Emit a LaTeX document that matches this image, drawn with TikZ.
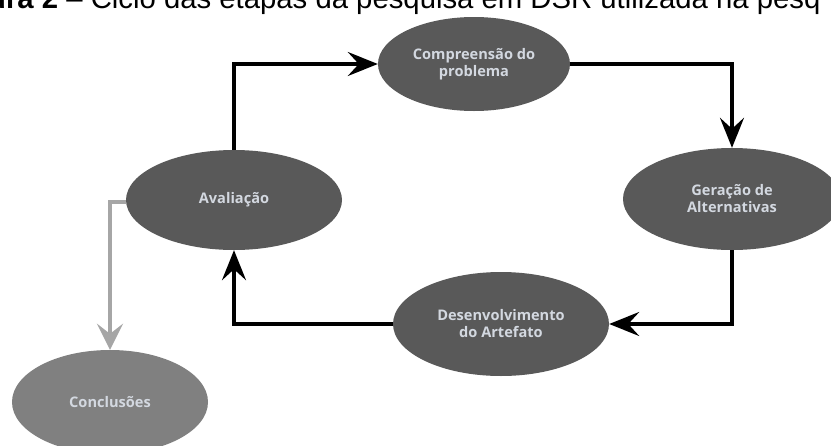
\documentclass[tikz,border=0pt]{standalone}
\usepackage{fontspec}
\setmainfont{Open Sans}
\newfontfamily\capfont{Liberation Sans}
\usetikzlibrary{shapes.geometric,arrows.meta}
\definecolor{darkfill}{HTML}{595959}
\definecolor{lightfill}{HTML}{808080}
\definecolor{txtcol}{HTML}{D3D8E0}
\definecolor{graylink}{HTML}{A6A6A6}
\tikzset{
  stage/.style={ellipse, fill=darkfill, draw=none, inner sep=0pt,
    text=txtcol, font=\bfseries\fontsize{14.6}{17}\selectfont, align=center},
  link/.style={line width=3.6pt, draw=black,
    -{Stealth[length=30pt,width=24pt,inset=11pt]}},
  graylinkstyle/.style={line width=4pt, draw=graylink,
    -{Stealth[length=26pt,width=26pt,inset=10pt]}}
}
\begin{document}
\begin{tikzpicture}[x=1pt,y=-1pt]
\useasboundingbox (0,0) rectangle (831,445);
\clip (0,0) rectangle (831,445);
\node[anchor=base west, inner sep=0pt, font=\capfont\fontsize{29.3}{31}\selectfont] (cap) at (-12,8)
  {\textbf{ura 2} – Ciclo das etapas da pesquisa em DSR utilizada na pesq};
\node[stage, minimum width=192pt, minimum height=94pt] (comp) at (474,64) {Compreensão do\\problema};
\node[stage, minimum width=216pt, minimum height=100pt] (aval) at (234,200) {Avaliação};
\node[stage, minimum width=218pt, minimum height=102pt] (ger) at (732,199) {Geração de\\Alternativas};
\node[stage, minimum width=216pt, minimum height=104pt] (des) at (501,324) {Desenvolvimento\\do Artefato};
\node[stage, fill=lightfill, minimum width=196pt, minimum height=104pt] (conc) at (110,402) {Conclusões};
\draw[link] (aval.north) |- (comp.west);
\draw[link] (comp.east) -| (ger.north);
\draw[link] (ger.south) |- (des.east);
\draw[link] (des.west) -| (aval.south);
\draw[graylinkstyle] ([yshift=-2pt]aval.west) -| (conc.north);
\end{tikzpicture}
\end{document}
